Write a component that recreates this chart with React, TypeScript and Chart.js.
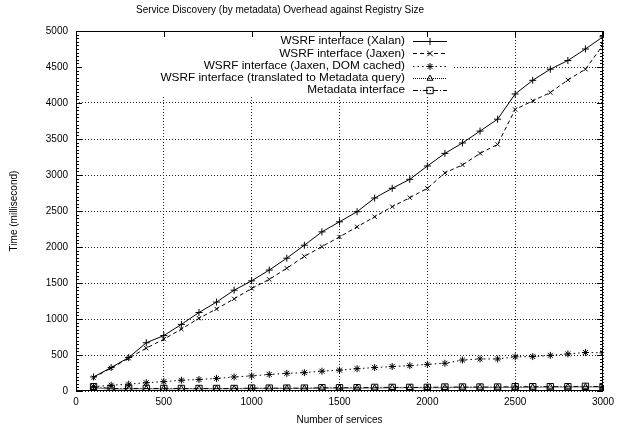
import React, { useEffect, useRef } from 'react';
import { Chart, registerables } from 'chart.js';

Chart.register(...registerables);

const services = [100, 200, 300, 400, 500, 600, 700, 800, 900, 1000, 1100, 1200, 1300, 1400, 1500, 1600, 1700, 1800, 1900, 2000, 2100, 2200, 2300, 2400, 2500, 2600, 2700, 2800, 2900, 3000];
const xalan = [195, 325, 465, 670, 770, 925, 1090, 1235, 1400, 1530, 1680, 1845, 2025, 2210, 2350, 2490, 2680, 2815, 2940, 3125, 3300, 3445, 3610, 3775, 4125, 4315, 4470, 4590, 4750, 4920];
const jaxen = [185, 320, 455, 595, 720, 860, 1010, 1140, 1280, 1425, 1550, 1705, 1870, 2005, 2140, 2280, 2420, 2560, 2685, 2815, 3030, 3140, 3300, 3425, 3910, 4030, 4145, 4320, 4470, 4805];
const jaxenDom = [60, 80, 95, 115, 130, 150, 160, 175, 195, 210, 230, 245, 255, 275, 290, 310, 325, 340, 352, 370, 385, 430, 445, 445, 475, 478, 495, 515, 535, 530];
const translated = [45, 25, 30, 30, 30, 30, 30, 30, 30, 35, 35, 35, 35, 40, 40, 40, 40, 45, 45, 45, 45, 50, 50, 50, 50, 50, 55, 55, 55, 55];
const metadataIf = [60, 35, 35, 35, 35, 35, 35, 35, 35, 40, 40, 40, 40, 45, 45, 45, 50, 50, 50, 50, 55, 55, 55, 55, 60, 60, 60, 60, 65, 60];

const seriesNames = [
  'WSRF interface (Xalan)',
  'WSRF interface (Jaxen)',
  'WSRF interface (Jaxen, DOM cached)',
  'WSRF interface (translated to Metadata query)',
  'Metadata interface',
];
const seriesValues = [xalan, jaxen, jaxenDom, translated, metadataIf];
const seriesDash = [[], [4, 3], [1.5, 3], [1, 1], [5, 2, 1, 2]];
const seriesPoint = ['cross', 'crossRot', 'star', 'triangle', 'rect'];
const seriesRadius = [3.5, 3, 3.5, 3.5, 4.5];

const chartTitle = 'Service Discovery (by metadata) Overhead against Registry Size';
const xTitle = 'Number of services';
const yTitle = 'Time (millisecond)';
const xMax = 3000;
const yMax = 5000;
const majorStep = 500;
const yMinorStep = 50;

const FONT = '"Liberation Sans", Arial, Helvetica, sans-serif';
const font = { family: FONT, size: 10 };

function drawMarker(ctx: CanvasRenderingContext2D, style: string, x: number, y: number, r: number) {
  ctx.beginPath();
  if (style === 'cross' || style === 'star') {
    ctx.moveTo(x - r, y); ctx.lineTo(x + r, y);
    ctx.moveTo(x, y - r); ctx.lineTo(x, y + r);
  }
  if (style === 'crossRot' || style === 'star') {
    const d = r * Math.SQRT1_2 * (style === 'crossRot' ? 1.3 : 1);
    ctx.moveTo(x - d, y - d); ctx.lineTo(x + d, y + d);
    ctx.moveTo(x - d, y + d); ctx.lineTo(x + d, y - d);
  }
  if (style === 'triangle') {
    let rad = 0;
    ctx.moveTo(x + Math.sin(rad) * r, y - Math.cos(rad) * r);
    rad += (2 * Math.PI) / 3;
    ctx.lineTo(x + Math.sin(rad) * r, y - Math.cos(rad) * r);
    rad += (2 * Math.PI) / 3;
    ctx.lineTo(x + Math.sin(rad) * r, y - Math.cos(rad) * r);
    ctx.closePath();
  }
  if (style === 'rect') {
    const s = r * Math.SQRT1_2;
    ctx.rect(x - s, y - s, 2 * s, 2 * s);
  }
  ctx.stroke();
}

const gnuplotPlugin = {
  id: 'gnuplotDecor',
  beforeDatasetsDraw(chart: any) {
    const { ctx, chartArea: a } = chart;
    ctx.save();
    ctx.fillStyle = '#ffffff';
    ctx.fillRect(a.left + 1, a.top + 1, a.right - 150 - a.left, 65);
    ctx.restore();
  },
  afterDraw(chart: any) {
    const { ctx, chartArea: a, scales } = chart;
    const xs = scales.x;
    const ys = scales.y;
    ctx.save();
    ctx.strokeStyle = '#000';
    ctx.lineWidth = 1;
    ctx.setLineDash([]);
    // frame
    ctx.strokeRect(Math.round(a.left) + 0.5, Math.round(a.top) + 0.5, Math.round(a.right - a.left) - 1, Math.round(a.bottom - a.top) - 1);
    // ticks (inward, mirrored)
    ctx.beginPath();
    for (let v = 0; v <= yMax; v += yMinorStep) {
      const py = Math.round(ys.getPixelForValue(v)) + 0.5;
      const len = v % majorStep === 0 ? 6 : 3;
      ctx.moveTo(a.left, py); ctx.lineTo(a.left + len, py);
      ctx.moveTo(a.right, py); ctx.lineTo(a.right - len, py);
    }
    for (let v = 0; v <= xMax; v += majorStep) {
      const px = Math.round(xs.getPixelForValue(v)) + 0.5;
      ctx.moveTo(px, a.bottom); ctx.lineTo(px, a.bottom - 6);
      ctx.moveTo(px, a.top); ctx.lineTo(px, a.top + 6);
    }
    ctx.stroke();

    // title
    ctx.fillStyle = '#000';
    ctx.font = `10px ${FONT}`;
    ctx.textAlign = 'center';
    ctx.textBaseline = 'middle';
    ctx.fillText(chartTitle, a.left + 204, a.top - 21);

    // key
    ctx.font = `11.8px ${FONT}`;
    ctx.textAlign = 'right';
    for (let i = 0; i < seriesNames.length; i++) {
      const ry = a.top + 10 + i * 12.3;
      ctx.fillStyle = '#000';
      ctx.fillText(seriesNames[i], a.right - 198, ry);
      ctx.setLineDash(seriesDash[i]);
      ctx.beginPath();
      ctx.moveTo(a.right - 190, Math.round(ry) + 0.5);
      ctx.lineTo(a.right - 156, Math.round(ry) + 0.5);
      ctx.stroke();
      ctx.setLineDash([]);
      drawMarker(ctx, seriesPoint[i], a.right - 173, Math.round(ry) + 0.5, seriesRadius[i]);
    }
    ctx.restore();
  },
};

export default function App() {
  const ref = useRef<HTMLCanvasElement>(null);
  useEffect(() => {
    document.body.style.margin = '0';
    if (!ref.current) return;
    const datasets = seriesNames.map((name, i) => ({
      label: name,
      data: services.map((s, j) => ({ x: s, y: seriesValues[i][j] })),
      borderColor: '#000',
      borderWidth: 1,
      borderDash: seriesDash[i],
      pointStyle: seriesPoint[i],
      pointRadius: seriesRadius[i],
      pointBorderColor: '#000',
      pointBackgroundColor: 'rgba(0,0,0,0)',
      pointBorderWidth: 1,
      tension: 0,
      fill: false,
    }));
    const chart = new Chart(ref.current, {
      type: 'line',
      data: { datasets },
      options: {
        animation: false,
        responsive: false,
        devicePixelRatio: 1,
        layout: { padding: { top: 31, right: 29, left: 0, bottom: 0 } },
        plugins: { legend: { display: false }, title: { display: false }, tooltip: { enabled: false } },
        scales: {
          x: {
            type: 'linear',
            min: 0,
            max: xMax,
            ticks: { stepSize: majorStep, font, color: '#000', padding: 5, maxRotation: 0, callback: (v: any) => String(v) },
            grid: { color: '#222', drawTicks: false, lineWidth: 1 },
            border: { display: false, dash: [1, 2] },
            title: { display: true, text: xTitle, font, color: '#000', padding: { top: 0, bottom: 4 } },
            afterFit: (s: any) => { s.height = 39; },
          },
          y: {
            type: 'linear',
            min: 0,
            max: yMax,
            ticks: { stepSize: majorStep, font, color: '#000', padding: 8, callback: (v: any) => String(v) },
            grid: { color: '#222', drawTicks: false, lineWidth: 1 },
            border: { display: false, dash: [1, 2] },
            title: { display: true, text: yTitle, font, color: '#000', padding: { top: 8, bottom: 0 } },
            afterFit: (s: any) => { s.width = 76; },
          },
        },
      } as any,
      plugins: [gnuplotPlugin],
    });
    return () => chart.destroy();
  }, []);
  return (
    <div style={{ width: 632, height: 430 }}>
      <canvas ref={ref} width={632} height={430} style={{ display: 'block' }} />
    </div>
  );
}
